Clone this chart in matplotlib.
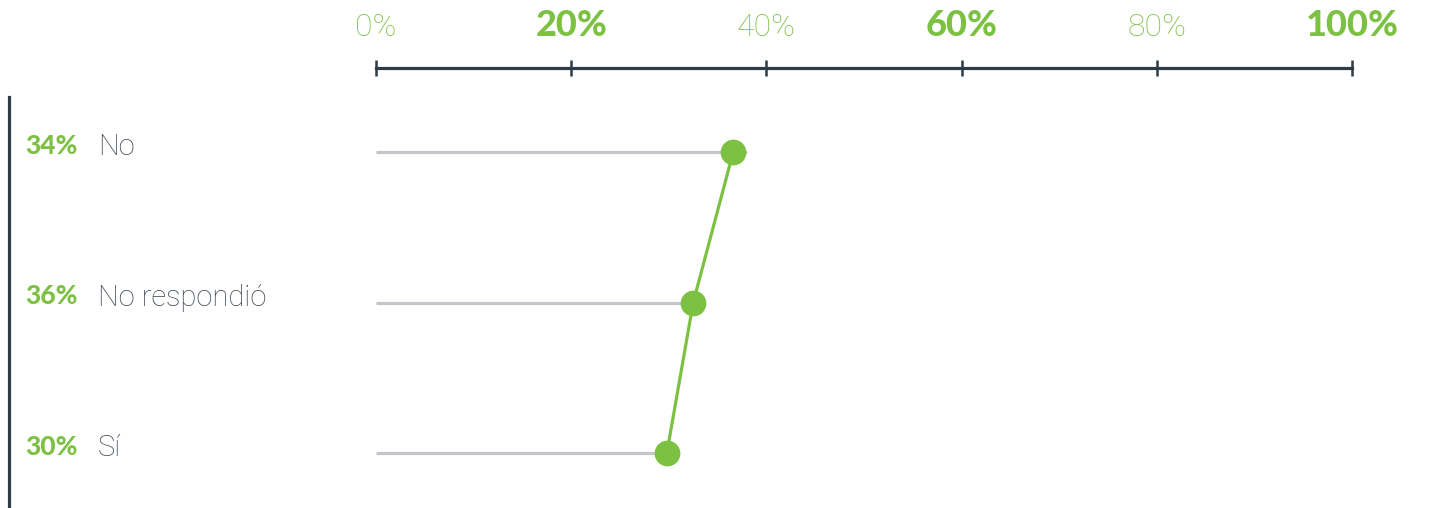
import matplotlib
matplotlib.use("Agg")
from matplotlib import pyplot as plt
from matplotlib.lines import Line2D
from matplotlib.transforms import blended_transform_factory

# data
categorias = ["No", "No respondió", "Sí"]
etiquetas_pct = ["34%", "36%", "30%"]
valores = [36.6, 32.5, 29.8]        # dot positions on the 0-100 scale
fin_gris = [38.0, 32.5, 29.8]       # where the grey guide lines stop
ticks = [0, 20, 40, 60, 80, 100]
tick_labels = ["0%", "20%", "40%", "60%", "80%", "100%"]
tick_bold = [False, True, False, True, False, True]

verde = "#7cc142"
gris = "#c3c6ca"
oscuro = "#2f3b47"
texto = "#3d4853"
fuente_fina = ["Roboto", "DejaVu Sans"]
fuente_gruesa = ["Lato", "DejaVu Sans"]

W, H = 1433, 508
fig = plt.figure(figsize=(W / 100, H / 100), dpi=100)
ax = fig.add_axes([376 / W, 0, 976 / W, 1])

y = list(range(len(categorias)))
# index 0 -> pixel 152 from top, index 2 -> pixel 453
paso = (453 - 152) / 2
ax.set_ylim((H - 152) / paso, -152 / paso)
ax.set_xlim(0, 100)

for yi, fin in zip(y, fin_gris):
    ax.plot([0, fin], [yi, yi], color=gris, lw=2.3, solid_capstyle="butt", zorder=1)
ax.plot(valores, y, color=verde, lw=2.3, zorder=2)
ax.plot(valores, y, "o", color=verde, ms=17.5, zorder=3)

# top ruler
for s in ["left", "right", "bottom"]:
    ax.spines[s].set_visible(False)
ax.spines["top"].set_position(("data", (68 - 152) / paso))
ax.spines["top"].set_color(oscuro)
ax.spines["top"].set_linewidth(2.3)
ax.xaxis.set_ticks_position("top")
ax.set_xticks(ticks)
ax.set_xticklabels(tick_labels)
ax.tick_params(axis="x", direction="inout", length=11, width=1.8, color=oscuro,
               labelsize=23, labelcolor=verde, pad=13)
for lab, b in zip(ax.get_xticklabels(), tick_bold):
    if b:
        lab.set_family(fuente_gruesa)
        lab.set_fontweight("black")
        lab.set_fontsize(26)
    else:
        lab.set_family(fuente_fina)
        lab.set_fontweight("light")
    lab.set_clip_on(False)
for t in ax.xaxis.get_major_ticks():
    t.tick2line.set_clip_on(False)
ax.set_yticks([])

# left labels
tr = blended_transform_factory(fig.transFigure, ax.transData)
for yi, cat, pct in zip(y, categorias, etiquetas_pct):
    ax.text(25 / W, yi - 0.04, pct, transform=tr, color=verde, fontsize=19,
            family=fuente_gruesa, fontweight="black", va="center", ha="left")
    ax.text(98 / W, yi - 0.03, cat, transform=tr, color=texto, fontsize=21,
            family=fuente_fina, fontweight="light", va="center", ha="left")

fig.add_artist(Line2D([9 / W, 9 / W], [0, 1 - 97 / H], color=oscuro, lw=2.3))

fig.savefig("out.png", dpi=100)
